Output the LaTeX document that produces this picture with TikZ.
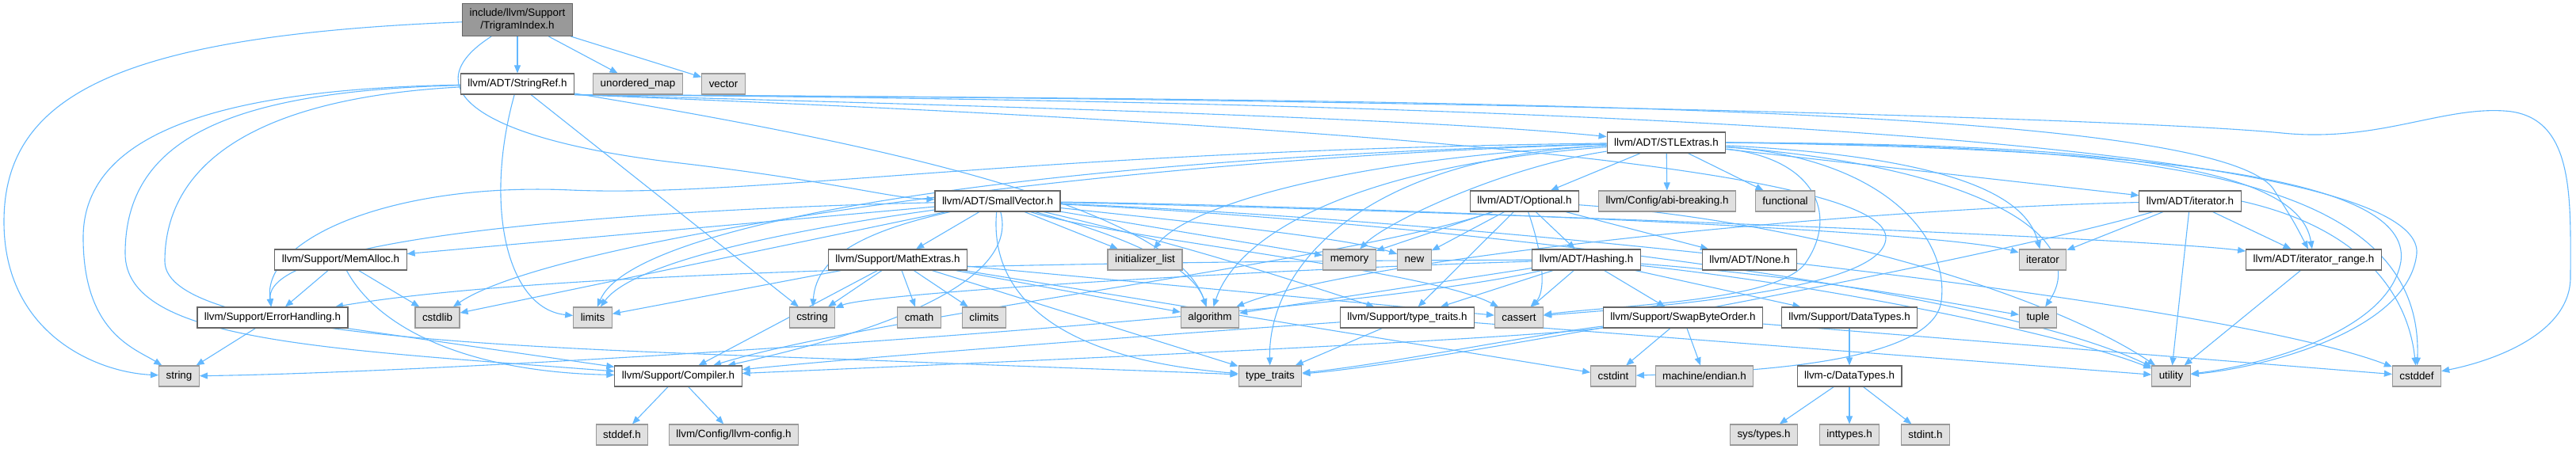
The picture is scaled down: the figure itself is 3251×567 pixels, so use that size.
\documentclass[tikz,border=0pt]{standalone}
\usepackage{fontspec}
\setmainfont{Liberation Sans}
\usetikzlibrary{arrows.meta,positioning}
\definecolor{edgeblue}{HTML}{63B8FF}
\definecolor{rootfill}{HTML}{999999}
\definecolor{boxline}{HTML}{666666}
\definecolor{sysfill}{HTML}{E0E0E0}
\definecolor{sysline}{HTML}{999999}
\pgfdeclarelayer{edges}
\pgfsetlayers{edges,main}

\begin{document}
\begin{tikzpicture}[
    x=0.5pt, y=-0.5pt,
    every node/.style={font=\fontsize{6.7}{8}\selectfont},
    hdr/.style={rectangle, draw=boxline, fill=white, line width=0.55pt,
        minimum height=13pt, inner xsep=4.5pt, inner ysep=0pt},
    root/.style={hdr, fill=rootfill, align=center, minimum height=20.5pt},
    sys/.style={hdr, draw=sysline, fill=sysfill},
    dep/.style={draw=edgeblue, line width=0.55pt, -{Triangle[length=5pt,width=4pt]}},
]
\useasboundingbox (0,0) rectangle (3251,567);

% Root file
\node[root] (trig) at (653,25) {include/llvm/Support\\/TrigramIndex.h};

% Row 1
\node[hdr] (stringref) at (653,106) {llvm/ADT/StringRef.h};
\node[sys] (umap) at (805,106) {unordered\_map};
\node[sys] (vector) at (913,106) {vector};

% Row 2
\node[hdr] (stlextras) at (2103,180) {llvm/ADT/STLExtras.h};

% Row 3
\node[hdr] (smallvec) at (1259,254) {llvm/ADT/SmallVector.h};
\node[hdr] (optional) at (1924,254) {llvm/ADT/Optional.h};
\node[sys] (abibrk) at (2104,254) {llvm/Config/abi-breaking.h};
\node[sys] (functional) at (2253,254) {functional};
\node[hdr] (iterh) at (2764,254) {llvm/ADT/iterator.h};

% Row 4
\node[hdr] (memalloc) at (430,328) {llvm/Support/MemAlloc.h};
\node[hdr] (mathext) at (1133,328) {llvm/Support/MathExtras.h};
\node[sys] (initlist) at (1445,328) {initializer\_list};
\node[sys] (memory) at (1703,328) {memory};
\node[sys] (new) at (1785,328) {new};
\node[hdr] (hashing) at (2002,328) {llvm/ADT/Hashing.h};
\node[hdr] (noneh) at (2208,328) {llvm/ADT/None.h};
\node[sys] (iterator) at (2578,328) {iterator};
\node[hdr] (iterrange) at (2920,328) {llvm/ADT/iterator\_range.h};

% Row 5
\node[hdr] (errhand) at (344,401) {llvm/Support/ErrorHandling.h};
\node[sys] (cstdlib) at (552,401) {cstdlib};
\node[sys] (limits) at (748,401) {limits};
\node[sys] (cstring) at (1025,401) {cstring};
\node[sys] (cmath) at (1160,401) {cmath};
\node[sys] (climits) at (1242,401) {climits};
\node[sys] (algorithm) at (1527,401) {algorithm};
\node[hdr] (typetraitsh) at (1776,401) {llvm/Support/type\_traits.h};
\node[sys] (cassert) at (1917,401) {cassert};
\node[hdr] (swapbo) at (2124,401) {llvm/Support/SwapByteOrder.h};
\node[hdr] (datatypes) at (2334,401) {llvm/Support/DataTypes.h};
\node[sys] (tuple) at (2572,401) {tuple};

% Row 6
\node[sys] (string) at (226,475) {string};
\node[hdr] (compiler) at (856,475) {llvm/Support/Compiler.h};
\node[sys] (typetraits) at (1603,475) {type\_traits};
\node[sys] (cstdint) at (2036,475) {cstdint};
\node[sys] (endian) at (2151,475) {machine/endian.h};
\node[hdr] (cdatatypes) at (2334,475) {llvm-c/DataTypes.h};
\node[sys] (utility) at (2740,475) {utility};
\node[sys] (cstddef) at (3050,475) {cstddef};

% Row 7
\node[sys] (stddef) at (785,549) {stddef.h};
\node[sys] (llvmconfig) at (926,549) {llvm/Config/llvm-config.h};
\node[sys] (systypes) at (2226,549) {sys/types.h};
\node[sys] (inttypes) at (2334,549) {inttypes.h};
\node[sys] (stdint) at (2430,549) {stdint.h};

\begin{pgfonlayer}{edges}
% TrigramIndex.h
\draw[dep] (trig) -- (stringref);
\draw[dep] (trig) -- (umap);
\draw[dep] (trig) -- (vector);
\draw[dep] (trig) .. controls (150,45) and (5,120) .. (5,280) .. controls (5,420) and (120,470) .. (string);
\draw[dep] (trig) .. controls (520,110) and (600,175) .. (850,205) .. controls (1050,228) and (1120,250) .. (smallvec);

% StringRef.h
\draw[dep] (stringref) .. controls (300,112) and (105,160) .. (105,300) .. controls (105,420) and (170,440) .. (string);
\draw[dep] (stringref) .. controls (280,115) and (158,180) .. (158,320) .. controls (158,430) and (400,440) .. (compiler);
\draw[dep] (stringref) .. controls (300,125) and (208,220) .. (208,330) .. controls (208,430) and (700,440) .. (1100,455) .. controls (1350,465) and (1500,470) .. (typetraits);
\draw[dep] (stringref) .. controls (610,260) and (640,390) .. (limits);
\draw[dep] (stringref) -- (cstring);
\draw[dep] (stringref) .. controls (1100,180) and (1480,260) .. (algorithm);
\draw[dep] (stringref.south east) .. controls (1300,135) and (1800,150) .. (stlextras);
\draw[dep] (stringref.south east) .. controls (1800,126) and (2800,130) .. (2870,240) .. controls (2895,280) .. (iterrange);
\draw[dep] (stringref.south east) .. controls (1800,124) and (2700,150) .. (2880,168) .. controls (3000,180) and (3080,135) .. (3160,140) .. controls (3250,145) and (3244,250) .. (3244,350) .. controls (3244,420) and (3150,455) .. (cstddef);
\draw[dep] (stringref.south east) .. controls (1900,128) and (3060,170) .. (3050,320) .. controls (3040,420) and (2850,465) .. (utility);
\draw[dep] (stringref.south east) .. controls (1500,150) and (2380,200) .. (2380,300) .. controls (2380,370) and (2050,390) .. (cassert);

% STLExtras.h
\draw[dep] (stlextras) -- (optional);
\draw[dep] (stlextras) -- (abibrk);
\draw[dep] (stlextras) -- (functional);
\draw[dep] (stlextras) -- (iterh);
\draw[dep] (stlextras) .. controls (2500,200) and (2560,260) .. (iterator);
\draw[dep] (stlextras.east) .. controls (2600,182) and (2900,200) .. (iterrange);
\draw[dep] (stlextras) .. controls (2500,210) and (2640,300) .. (tuple);
\draw[dep] (stlextras.east) .. controls (2700,188) and (3045,220) .. (3030,330) .. controls (3015,420) and (2850,462) .. (utility);
\draw[dep] (stlextras.east) .. controls (2700,184) and (3060,215) .. (cstddef);
\draw[dep] (stlextras) .. controls (2290,200) and (2320,270) .. (2280,330) .. controls (2250,380) and (2050,385) .. (cassert);
\draw[dep] (stlextras) .. controls (2380,200) and (2460,300) .. (2450,380) .. controls (2440,460) and (2200,470) .. (cstdint);
\draw[dep] (stlextras) .. controls (1300,190) and (950,250) .. (720,240) .. controls (500,230) and (330,300) .. (errhand);
\draw[dep] (stlextras) .. controls (1400,200) and (700,300) .. (cstdlib);
\draw[dep] (stlextras) .. controls (1300,200) and (800,280) .. (limits);
\draw[dep] (stlextras) .. controls (1700,200) and (1500,260) .. (initlist);
\draw[dep] (stlextras) .. controls (1700,210) and (1560,300) .. (algorithm);
\draw[dep] (stlextras) .. controls (1900,210) and (1750,280) .. (memory);
\draw[dep] (stlextras) .. controls (1700,200) and (1600,350) .. (typetraits);

% SmallVector.h
\draw[dep] (smallvec) -- (mathext);
\draw[dep] (smallvec) -- (memalloc);
\draw[dep] (smallvec) .. controls (900,262) and (330,290) .. (errhand);
\draw[dep] (smallvec) -- (cstdlib);
\draw[dep] (smallvec) .. controls (1000,290) and (800,330) .. (limits);
\draw[dep] (smallvec) .. controls (1100,290) and (1030,320) .. (cstring);
\draw[dep] (smallvec) -- (initlist);
\draw[dep] (smallvec) .. controls (1350,280) and (1500,320) .. (algorithm);
\draw[dep] (smallvec) -- (memory);
\draw[dep] (smallvec) .. controls (1500,280) and (1700,300) .. (new);
\draw[dep] (smallvec) .. controls (1280,330) and (1200,400) .. (compiler);
\draw[dep] (smallvec) .. controls (1500,310) and (1650,360) .. (typetraitsh);
\draw[dep] (smallvec) .. controls (1400,300) and (1800,340) .. (cassert);
\draw[dep] (smallvec) .. controls (1700,260) and (2450,290) .. (iterator);
\draw[dep] (smallvec) .. controls (1800,265) and (2700,300) .. (iterrange);
\draw[dep] (smallvec) .. controls (1800,280) and (2500,360) .. (utility);
\draw[dep] (smallvec) .. controls (1900,280) and (2800,380) .. (cstddef);
\draw[dep] (smallvec) .. controls (1250,350) and (1300,450) .. (typetraits);

% Optional.h
\draw[dep] (optional) -- (hashing);
\draw[dep] (optional) -- (noneh);
\draw[dep] (optional) -- (memory);
\draw[dep] (optional) -- (new);
\draw[dep] (optional) -- (typetraitsh);
\draw[dep] (optional) .. controls (1700,330) and (1100,400) .. (compiler);
\draw[dep] (optional) .. controls (1950,330) and (1950,370) .. (cassert);
\draw[dep] (optional) .. controls (2300,280) and (2600,380) .. (utility);

% Hashing.h
\draw[dep] (hashing) -- (swapbo);
\draw[dep] (hashing) -- (datatypes);
\draw[dep] (hashing) -- (cassert);
\draw[dep] (hashing) -- (typetraitsh);
\draw[dep] (hashing) -- (algorithm);
\draw[dep] (hashing) .. controls (1600,340) and (1100,370) .. (cstring);
\draw[dep] (hashing) .. controls (1400,330) and (700,340) .. (errhand);
\draw[dep] (hashing) .. controls (1700,400) and (600,470) .. (string);
\draw[dep] (hashing) .. controls (2300,350) and (2500,390) .. (tuple);
\draw[dep] (hashing) .. controls (2300,360) and (2600,420) .. (utility);

% MathExtras.h
\draw[dep] (mathext) -- (cstring);
\draw[dep] (mathext) -- (cmath);
\draw[dep] (mathext) -- (climits);
\draw[dep] (mathext) -- (limits);
\draw[dep] (mathext) -- (algorithm);
\draw[dep] (mathext) -- (cassert);
\draw[dep] (mathext) -- (cstdint);
\draw[dep] (mathext) -- (typetraits);
\draw[dep] (mathext) -- (compiler);

% MemAlloc.h, ErrorHandling.h
\draw[dep] (memalloc) -- (errhand);
\draw[dep] (memalloc) -- (cstdlib);
\draw[dep] (memalloc) .. controls (480,420) and (600,470) .. (compiler);
\draw[dep] (errhand) -- (string);
\draw[dep] (errhand) -- (compiler);

% iterator.h, iterator_range.h
\draw[dep] (iterh) -- (iterator);
\draw[dep] (iterh) -- (iterrange);
\draw[dep] (iterh) -- (utility);
\draw[dep] (iterh.east) .. controls (2990,290) and (3040,380) .. (cstddef);
\draw[dep] (iterh) .. controls (2300,265) and (1700,330) .. (algorithm);
\draw[dep] (iterh) .. controls (2500,330) and (1800,460) .. (typetraits);
\draw[dep] (iterrange) -- (utility);

% type_traits.h, SwapByteOrder.h
\draw[dep] (typetraitsh) .. controls (1500,420) and (1100,450) .. (compiler);
\draw[dep] (typetraitsh) -- (typetraits);
\draw[dep] (typetraitsh) -- (utility);
\draw[dep] (swapbo) .. controls (1900,430) and (1200,460) .. (compiler);
\draw[dep] (swapbo) .. controls (1950,420) and (1750,460) .. (typetraits);
\draw[dep] (swapbo) -- (cstdint);
\draw[dep] (swapbo) -- (endian);
\draw[dep] (swapbo) -- (cstddef);

% DataTypes
\draw[dep] (datatypes) -- (cdatatypes);
\draw[dep] (cdatatypes) -- (systypes);
\draw[dep] (cdatatypes) -- (inttypes);
\draw[dep] (cdatatypes) -- (stdint);

% Compiler.h
\draw[dep] (compiler) -- (stddef);
\draw[dep] (compiler) -- (llvmconfig);
\end{pgfonlayer}

\end{tikzpicture}
\end{document}
